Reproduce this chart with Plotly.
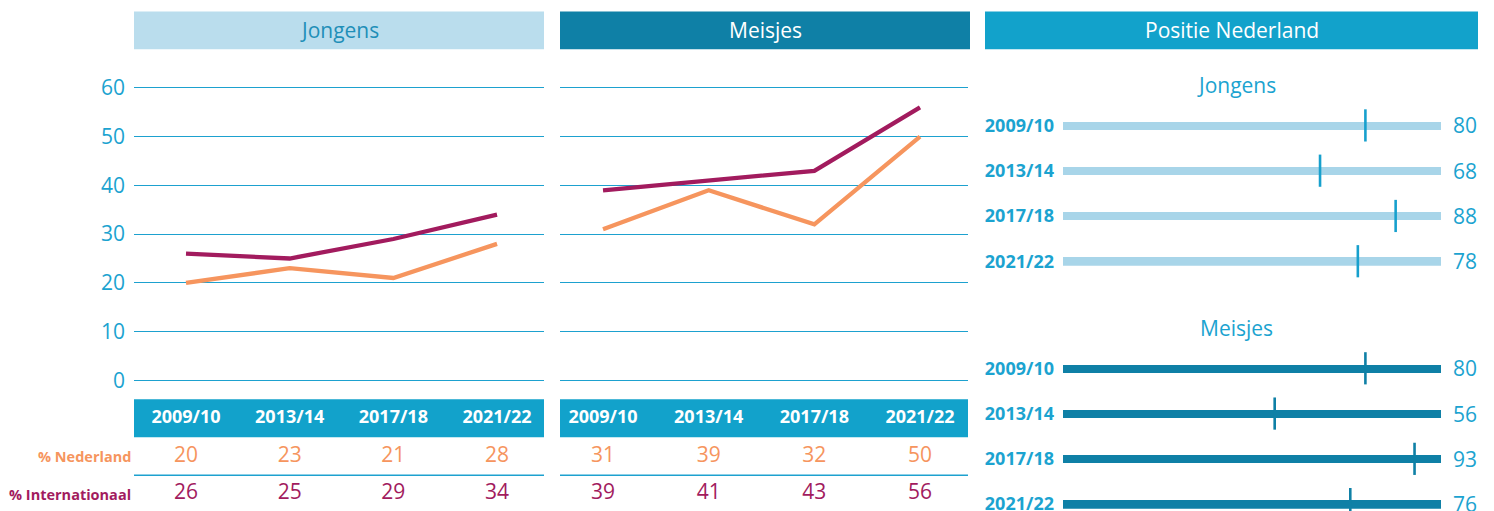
import plotly.graph_objects as go

# ---------------- data ----------------
years = ["2009/10", "2013/14", "2017/18", "2021/22"]
jongens_nl = [20, 23, 21, 28]
jongens_int = [26, 25, 29, 34]
meisjes_nl = [31, 39, 32, 50]
meisjes_int = [39, 41, 43, 56]
positie_jongens = [80, 68, 88, 78]
positie_meisjes = [80, 56, 93, 76]
y_ticks = [0, 10, 20, 30, 40, 50, 60]
row_labels = ["% Nederland", "% Internationaal"]
track_max = 100

# ---------------- style ----------------
W, H = 1494, 511
OFF = 8          # page body margin
VS, VA = 0.977, 4.7   # vertical capture correction
FONT = "Open Sans"
ORANGE = "#F6955E"
PURPLE = "#A21B5E"
BLUE = "#12A2CB"
DARK = "#0F80A6"
LIGHT_HDR = "#BADDED"
LIGHT_BAR = "#A8D5E9"
GRID = "#1DA1CF"
TXT_BLUE = "#1BA3D0"
REG = 21   # regular text size
LW = 4.3


def px(x):
    return (x - OFF) / W


def py(y):
    page = (y - VA) / VS
    return 1 - (page - OFF) / H


fig = go.Figure()

# --- line charts ---
fig.add_trace(go.Scatter(x=years, y=jongens_int, mode="lines", line=dict(color=PURPLE, width=LW),
                         xaxis="x", yaxis="y", showlegend=False, hoverinfo="skip"))
fig.add_trace(go.Scatter(x=years, y=jongens_nl, mode="lines", line=dict(color=ORANGE, width=LW),
                         xaxis="x", yaxis="y", showlegend=False, hoverinfo="skip"))
fig.add_trace(go.Scatter(x=years, y=meisjes_int, mode="lines", line=dict(color=PURPLE, width=LW),
                         xaxis="x2", yaxis="y2", showlegend=False, hoverinfo="skip"))
fig.add_trace(go.Scatter(x=years, y=meisjes_nl, mode="lines", line=dict(color=ORANGE, width=LW),
                         xaxis="x2", yaxis="y2", showlegend=False, hoverinfo="skip"))

# --- tables ---
rows = ["hdr", "ned", "int"]
for xa, ya, nl, intl in [("x3", "y3", jongens_nl, jongens_int), ("x4", "y4", meisjes_nl, meisjes_int)]:
    fig.add_trace(go.Scatter(x=years, y=["hdr"] * 4, text=years, mode="text",
                             texttemplate="<b>%{text}</b>",
                             textfont=dict(family=FONT, size=18, color="white"),
                             xaxis=xa, yaxis=ya, showlegend=False, hoverinfo="skip", cliponaxis=False))
    fig.add_trace(go.Scatter(x=years, y=["ned"] * 4, text=[str(v) for v in nl], mode="text",
                             textfont=dict(family=FONT, size=REG, color=ORANGE),
                             xaxis=xa, yaxis=ya, showlegend=False, hoverinfo="skip", cliponaxis=False))
    fig.add_trace(go.Scatter(x=years, y=["int"] * 4, text=[str(v) for v in intl], mode="text",
                             textfont=dict(family=FONT, size=REG, color=PURPLE),
                             xaxis=xa, yaxis=ya, showlegend=False, hoverinfo="skip", cliponaxis=False))

# --- positie ---
for xa, ya, vals, bar_col, tick_col in [("x5", "y5", positie_jongens, LIGHT_BAR, "#17A0CD"),
                                        ("x6", "y6", positie_meisjes, DARK, DARK)]:
    fig.add_trace(go.Bar(x=[track_max] * 4, y=years, orientation="h", width=0.18,
                         marker=dict(color=bar_col, line=dict(width=0)),
                         xaxis=xa, yaxis=ya, showlegend=False, hoverinfo="skip"))
    fig.add_trace(go.Scatter(x=vals, y=years, mode="markers",
                             marker=dict(symbol="line-ns", size=23, line=dict(width=2.6, color=tick_col)),
                             xaxis=xa, yaxis=ya, showlegend=False, hoverinfo="skip", cliponaxis=False))

# ---------------- axes ----------------
hidden_x = dict(showgrid=False, zeroline=False, showticklabels=False, ticks="", showline=False,
                type="category", categoryarray=years, categoryorder="array")

x1_dom = [px(134), px(544)]
x2_dom = [px(560), px(968)]
x1_rng = [-0.5016, 3.453]
x2_rng = [-0.407, 3.454]
line_ydom = [py(389.75), py(77.75)]

layout_axes = dict(
    xaxis=dict(domain=x1_dom, range=x1_rng, anchor="y", **hidden_x),
    yaxis=dict(domain=line_ydom, range=[-2, 62], anchor="x", tickvals=y_ticks,
               showgrid=True, gridcolor=GRID, gridwidth=1.3, zeroline=False, ticks="",
               ticklabelstandoff=8,
               tickfont=dict(family=FONT, size=REG, color=TXT_BLUE)),
    xaxis2=dict(domain=x2_dom, range=x2_rng, anchor="y2", **hidden_x),
    yaxis2=dict(domain=line_ydom, range=[-2, 62], anchor="x2", tickvals=y_ticks,
                showgrid=True, gridcolor=GRID, gridwidth=1.3, zeroline=False, ticks="",
                showticklabels=False),
)

table_ydom = [max(0.0, py(509.2)), py(395.2)]
tbl_y = dict(domain=table_ydom, type="category", categoryarray=rows, categoryorder="array",
             range=[2.4, -0.6], showgrid=False, zeroline=False, showticklabels=False, ticks="")
layout_axes.update(
    xaxis3=dict(domain=x1_dom, range=x1_rng, anchor="y3", **hidden_x),
    yaxis3=dict(anchor="x3", **tbl_y),
    xaxis4=dict(domain=x2_dom, range=x2_rng, anchor="y4", **hidden_x),
    yaxis4=dict(anchor="x4", **tbl_y),
)

pos_x = dict(domain=[px(1063), px(1441)], range=[0, track_max], showgrid=False, zeroline=False,
             showticklabels=False, ticks="", showline=False)
pos_y = dict(type="category", categoryarray=years, categoryorder="array", range=[3.1, -0.5],
             showgrid=False, zeroline=False, ticks="", ticklabelstandoff=8,
             tickfont=dict(family=FONT, size=18, color=TXT_BLUE, weight="bold"))
layout_axes.update(
    xaxis5=dict(anchor="y5", **pos_x),
    yaxis5=dict(anchor="x5", domain=[py(265.4), py(102.35)], **pos_y),
    xaxis6=dict(anchor="y6", **pos_x),
    yaxis6=dict(anchor="x6", domain=[max(0.0, py(508.4)), py(345.35)], **pos_y),
)

# ---------------- shapes & annotations ----------------
shapes = []
annotations = []

# panel headers
headers = [
    ("Jongens", px(134), px(544), LIGHT_HDR, "#1F8FB8"),
    ("Meisjes", px(560), px(970), DARK, "white"),
    ("Positie Nederland", px(985), px(1478), BLUE, "white"),
]
for title, x0, x1, bg, fg in headers:
    shapes.append(dict(type="rect", xref="paper", yref="paper", x0=x0, x1=x1, y0=py(48.8), y1=py(11),
                       fillcolor=bg, line=dict(width=0), layer="below"))
    annotations.append(dict(text=title, xref="paper", yref="paper", x=(x0 + x1) / 2, y=py(30),
                            xanchor="center", yanchor="middle", showarrow=False,
                            font=dict(family=FONT, size=REG, color=fg)))

# table header bars and separators
for xa, ya in [("x3", "y3"), ("x4", "y4")]:
    shapes.append(dict(type="rect", xref=f"{xa} domain", yref=ya, x0=0, x1=1, y0=-0.5, y1=0.5,
                       fillcolor=BLUE, line=dict(width=0), layer="below"))
    shapes.append(dict(type="line", xref=f"{xa} domain", yref=ya, x0=0, x1=1, y0=1.5, y1=1.5,
                       line=dict(color=GRID, width=1.5)))

# table row labels
for lab, key, col in [(row_labels[0], "ned", ORANGE), (row_labels[1], "int", PURPLE)]:
    annotations.append(dict(text=f"<b>{lab}</b>", xref="x3 domain", yref="y3", x=0, y=key,
                            xanchor="right", yanchor="middle", xshift=-1, showarrow=False,
                            font=dict(family=FONT, size=14.5, color=col)))

# positie subtitles
for sub, yy in [("Jongens", 85), ("Meisjes", 328)]:
    annotations.append(dict(text=sub, xref="paper", yref="paper", x=px(1236), y=py(yy),
                            xanchor="center", yanchor="middle", showarrow=False,
                            font=dict(family=FONT, size=REG, color=TXT_BLUE)))

# positie value labels
for xa, ya, vals in [("x5", "y5", positie_jongens), ("x6", "y6", positie_meisjes)]:
    for yr, v in zip(years, vals):
        annotations.append(dict(text=str(v), xref=xa, yref=ya, x=track_max, y=yr,
                                xanchor="left", yanchor="middle", xshift=10, showarrow=False,
                                font=dict(family=FONT, size=REG, color=TXT_BLUE)))

fig.update_layout(
    width=W, height=H,
    margin=dict(l=0, r=0, t=0, b=0),
    paper_bgcolor="white", plot_bgcolor="rgba(0,0,0,0)",
    showlegend=False,
    bargap=0,
    shapes=shapes,
    annotations=annotations,
    font=dict(family=FONT),
    **layout_axes,
)

fig.write_html("out.html")
